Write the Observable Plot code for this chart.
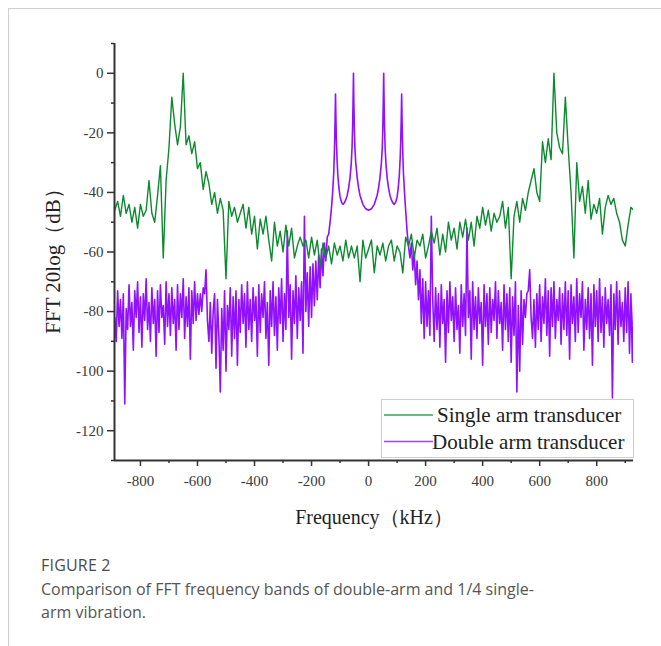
<!DOCTYPE html>
<html>
<head>
<meta charset="utf-8">
<script src="https://cdn.jsdelivr.net/npm/d3@7"></script>
<script src="https://cdn.jsdelivr.net/npm/@observablehq/plot@0.6"></script>
<style>
  html, body { margin: 0; padding: 0; background: #fff; }
  body { width: 661px; height: 646px; position: relative; overflow: hidden; }
  #card { position: absolute; left: 8px; top: 8px; width: 660px; height: 660px;
          border-left: 1.5px solid #cfcfcf; border-top: 1.5px solid #cfcfcf; }
  #chart { position: absolute; left: 0; top: 0; }
  #chart svg text { font-family: "Liberation Serif", "Times New Roman", serif !important; }
  #legend { position: absolute; left: 381px; top: 399px; }
  #fig { position: absolute; left: 41px; top: 555px; font-family: "Open Sans", sans-serif;
         font-size: 16px; line-height: 20px; color: #4a4a4a; font-weight: 500; letter-spacing: 0.2px; }
  #cap { position: absolute; left: 41px; top: 578px; font-family: "Open Sans", sans-serif;
         font-size: 16px; line-height: 23px; color: #555; }
</style>
</head>
<body>
<div id="card"></div>
<div id="chart"></div>
<div id="legend"></div>
<div id="fig">FIGURE 2</div>
<div id="cap">Comparison of FFT frequency bands of double-arm and 1/4 single-<br>arm vibration.</div>
<script>
// ---------- axes ----------
const xDomain = [-891, 929];
const yDomain = [-130, 10];
const xMajor = [-800, -600, -400, -200, 0, 200, 400, 600, 800];
const xMinor = [-700, -500, -300, -100, 100, 300, 500, 700, 900];
const yMajor = [-120, -100, -80, -60, -40, -20, 0];
const yMinor = [-130, -110, -90, -70, -50, -30, -10, 10];
const xLabel = "Frequency（kHz）";
const yLabel = "FFT 20log（dB）";
const seriesNames = ["Single arm transducer", "Double arm transducer"];
const seriesColors = ["#0b8a2e", "#9010ff"];

// ---------- single arm transducer (FFT bins every 10 kHz from -890 kHz) ----------
const singleStart = -890, singleStep = 10;
const singleDb = [
  -46, -43, -48, -41, -47, -44, -50, -45, -52, -44,
  -48, -46, -36, -47, -50, -41, -31, -62, -36, -25,
  -8, -17, -24, -18, 0, -24, -21, -27, -23, -32,
  -30, -39, -33, -37, -44, -40, -47, -42, -46, -69,
  -43, -48, -45, -50, -47,
  -44, -52, -45, -54, -48, -59, -49, -54, -48, -56,
  -63, -50, -58, -53, -60, -51, -58, -52, -62, -58,
  -55, -58, -56, -62, -55, -61, -56, -65, -57, -62,
  -58, -64, -57, -61, -58, -63, -56, -62, -58, -62,
  -58, -70, -56, -62, -59,
  -56, -67, -58, -61, -57, -63, -58, -56, -63, -58,
  -60, -67, -55, -58, -54, -62, -56, -58, -54, -62,
  -58, -53, -57, -52, -61, -54, -60, -50, -56, -52,
  -59, -50, -55, -49, -56, -50, -58, -48, -52, -45,
  -51, -46, -53, -47, -50,
  -48, -43, -52, -45, -69, -48, -43, -50, -42, -46,
  -40, -36, -32, -40, -43, -23, -30, -22, -29, 0,
  -20, -25, -27, -8, -25, -40, -62, -30, -43, -38,
  -47, -36, -49, -44, -47, -42, -54, -45, -41, -44,
  -42, -47, -50, -56, -58, -51, -45, -46
];

// ---------- double arm transducer ----------
// left noise floor: bins every 5 kHz from -890 kHz
const doubleLeftStart = -890, doubleStep = 5;
const doubleLeftDb = [
  -82, -90, -73, -85, -76, -89, -74, -111, -79, -86,
  -71, -85, -77, -93, -73, -82, -70, -87, -75, -92,
  -74, -83, -69, -86, -77, -90, -72, -84, -76, -95,
  -73, -87, -71, -82, -78, -91, -70, -85, -74, -88,
  -72, -84, -76, -93, -71, -86, -74, -82, -69, -89,
  -75, -85, -72, -96, -73, -84, -70, -83, -74, -81,
  -74, -80, -72, -74, -66, -83, -90, -77, -94, -80,
  -74, -99, -76, -88, -107, -79, -93, -73, -100, -78,
  -86, -72, -95, -75, -89, -73, -98, -76, -87, -71,
  -84, -74, -92, -70, -86, -76, -90, -72, -83, -75,
  -95, -71, -87, -74, -82, -70, -89, -77, -98, -73,
  -85, -70, -88, -75, -93, -72, -84, -69, -90, -74,
  -86, -53, -82, -71, -96, -73, -84, -68, -89, -72,
  -83, -70, -94, -48, -80, -67, -85, -65, -82, -64,
  -78, -63, -76, -61, -72, -59, -68, -57, -63, -55
];
// central resonance band
const doubleCenterFreq = [
  -140, -135, -130, -126, -122, -119.5, -117.5, -116, -114.5, -113, -111, -108, -104, -100, -95, -90,
  -85, -80, -75, -70, -65, -61, -58, -56, -54.5, -53, -51.5, -50, -48, -45, -40, -35, -30, -20, -10, 0,
  10, 20, 30, 35, 40, 45, 48, 50, 51.5, 53, 54.5, 56, 58, 61, 65, 70, 75, 80, 85,
  90, 95, 100, 104, 108, 111, 113, 114.5, 116, 117.5, 119.5, 122, 126, 130, 135, 140
];
const doubleCenterDb = [
  -54, -50, -45, -40, -33, -25, -16, -7, -15, -22, -28, -34, -38.5, -41.5, -43.3, -44,
  -43.5, -42.5, -41, -38.5, -35, -30.5, -25, -18, -10, 0, -10, -18, -25, -30, -35, -38.5, -41, -44, -45.5, -46,
  -45.5, -44, -41, -38.5, -35, -30, -25, -18, -10, 0, -10, -18, -25, -30.5, -35, -38.5, -41, -42.5, -43.5,
  -44, -43.3, -41.5, -38.5, -34, -28, -22, -15, -7, -16, -25, -33, -40, -46, -53, -58
];
// right noise floor: bins every 5 kHz from 145 kHz
const doubleRightStart = 145;
const doubleRightDb = [
  -62, -57, -66, -60, -71, -63, -76, -66, -84, -69,
  -89, -70, -85, -73, -88, -48, -76, -90, -72, -86,
  -74, -92, -71, -84, -76, -97, -73, -87, -70, -83,
  -75, -90, -72, -86, -78, -94, -71, -85, -74, -88,
  -52, -82, -73, -96, -70, -86, -75, -89, -72, -84,
  -77, -98, -71, -85, -74, -91, -72, -87, -76, -83,
  -70, -89, -73, -84, -77, -93, -71, -86, -74, -90,
  -72, -97, -75, -88, -70, -107, -78, -100, -73, -91,
  -76, -82, -74, -73, -66, -82, -89, -76, -92, -74,
  -86, -71, -90, -75, -84, -69, -88, -73, -95, -72,
  -85, -70, -89, -76, -83, -72, -91, -74, -86, -70,
  -88, -73, -96, -71, -84, -75, -90, -69, -87, -74,
  -82, -70, -93, -76, -86, -72, -89, -74, -98, -71,
  -85, -73, -90, -69, -87, -75, -92, -72, -84, -76,
  -88, -71, -109, -74, -86, -70, -91, -73, -85, -77,
  -90, -72, -87, -70, -94, -74, -97, -76
];

// ---------- build tables ----------
const singleData = singleDb.map((db, i) => ({f: singleStart + i * singleStep, db}));
const doubleData = [
  ...doubleLeftDb.map((db, i) => ({f: doubleLeftStart + i * doubleStep, db})),
  ...doubleCenterFreq.map((f, i) => ({f, db: doubleCenterDb[i]})),
  ...doubleRightDb.map((db, i) => ({f: doubleRightStart + i * doubleStep, db}))
];

const fmt = d => String(d);
const serif = '"Liberation Serif", "Times New Roman", serif';

const chart = Plot.plot({
  width: 661,
  height: 530,
  marginLeft: 114,
  marginRight: 28,
  marginTop: 43,
  marginBottom: 70,
  x: {domain: xDomain, label: null},
  y: {domain: yDomain, label: null},
  style: {fontFamily: serif, fontSize: "15px", color: "#333", background: "transparent", overflow: "visible"},
  marks: [
    Plot.line(doubleData, {x: "f", y: "db", stroke: seriesColors[1], strokeWidth: 1.6, clip: true}),
    Plot.line(singleData, {x: "f", y: "db", stroke: seriesColors[0], strokeWidth: 1.4, clip: true}),
    Plot.axisY(yMajor, {tickSize: 7, tickPadding: 4, tickFormat: fmt, strokeWidth: 1.5,
                        fontSize: 15, fontFamily: serif, fill: "#3a3a3a"}),
    Plot.axisY(yMinor, {tickSize: 3, tickFormat: () => "", strokeWidth: 1.5}),
    Plot.axisX(xMajor, {tickSize: 6, tickPadding: 9, tickFormat: fmt, strokeWidth: 1.5,
                        fontSize: 15, fontFamily: serif, fill: "#3a3a3a"}),
    Plot.axisX(xMinor, {tickSize: 3, tickFormat: () => "", strokeWidth: 1.5}),
    Plot.ruleX([xDomain[0]], {stroke: "#333", strokeWidth: 2}),
    Plot.ruleY([yDomain[0]], {stroke: "#333", strokeWidth: 2}),
    Plot.text([xLabel], {frameAnchor: "bottom", dy: 57, text: d => d, fontSize: 20, fontFamily: serif,
                         fill: "#222", lineAnchor: "middle", textAnchor: "middle"}),
    Plot.text([yLabel], {frameAnchor: "left", dx: -61, dy: 4, rotate: -90, text: d => d, fontSize: 21,
                         fontFamily: serif, fill: "#222", lineAnchor: "middle", textAnchor: "middle"})
  ]
});
document.getElementById("chart").appendChild(chart);

// ---------- legend ----------
const lg = d3.select("#legend").append("svg").attr("width", 254).attr("height", 60);
lg.append("rect").attr("x", 0.5).attr("y", 0.5).attr("width", 252).attr("height", 58)
  .attr("fill", "#fff").attr("stroke", "#cfcfcf").attr("stroke-width", 1);
seriesNames.forEach((name, i) => {
  const cy = 16 + i * 26.5;
  lg.append("line").attr("x1", 3).attr("x2", 52).attr("y1", cy).attr("y2", cy)
    .attr("stroke", seriesColors[i]).attr("stroke-width", 1.5).attr("opacity", 0.8);
  lg.append("text").attr("x", i === 0 ? 56 : 51).attr("y", cy).attr("dy", "0.35em")
    .attr("font-family", serif).attr("font-size", 21).attr("fill", "#222").text(name);
});
</script>
</body>
</html>
